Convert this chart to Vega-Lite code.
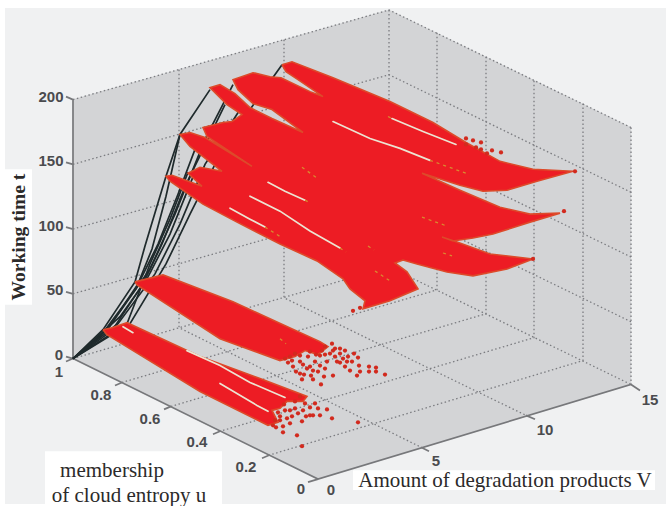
{
"$schema":"https://vega.github.io/schema/vega-lite/v6.json",
"width":666,"height":506,"autosize":{"type":"fit","contains":"padding"},"padding":0,
"background":"white","view":{"stroke":null},
"datasets":{
"boxes":[{"x":5,"x2":666,"y":8,"y2":506,"k":"bg"}],
"labelboxes":[{"x":5,"x2":32,"y":170,"y2":306},{"x":45,"x2":222,"y":453,"y2":506},{"x":353,"x2":655,"y":472,"y2":492}],
"walls":[
{"g":"left","i":1,"x":73,"y":100},{"g":"left","i":2,"x":389,"y":10},{"g":"left","i":3,"x":389,"y":268},{"g":"left","i":4,"x":73,"y":360},{"g":"left","i":5,"x":73,"y":100},
{"g":"right","i":1,"x":389,"y":10},{"g":"right","i":2,"x":631,"y":128},{"g":"right","i":3,"x":631,"y":386},{"g":"right","i":4,"x":389,"y":268},{"g":"right","i":5,"x":389,"y":10},
{"g":"floor","i":1,"x":73,"y":360},{"g":"floor","i":2,"x":389,"y":268},{"g":"floor","i":3,"x":631,"y":386},{"g":"floor","i":4,"x":318,"y":481},{"g":"floor","i":5,"x":73,"y":360}],
"grid":[
{"g":"a200","i":1,"x":73,"y":100},{"g":"a200","i":2,"x":389,"y":10},{"g":"a200","i":3,"x":631,"y":128},
{"g":"a150","i":1,"x":73,"y":165},{"g":"a150","i":2,"x":389,"y":75},{"g":"a150","i":3,"x":631,"y":193},
{"g":"a100","i":1,"x":73,"y":230},{"g":"a100","i":2,"x":389,"y":140},{"g":"a100","i":3,"x":631,"y":258},
{"g":"a50","i":1,"x":73,"y":295},{"g":"a50","i":2,"x":389,"y":205},{"g":"a50","i":3,"x":631,"y":323},
{"g":"a0","i":1,"x":73,"y":360},{"g":"a0","i":2,"x":389,"y":268},{"g":"a0","i":3,"x":631,"y":386},
{"g":"v1","i":1,"x":179,"y":70},{"g":"v1","i":2,"x":179,"y":329},{"g":"v1","i":3,"x":421,"y":449},
{"g":"v2","i":1,"x":284,"y":40},{"g":"v2","i":2,"x":284,"y":299},{"g":"v2","i":3,"x":526,"y":417},
{"g":"v3","i":1,"x":389,"y":10},{"g":"v3","i":2,"x":389,"y":268},
{"g":"r1","i":1,"x":437,"y":33},{"g":"r1","i":2,"x":437,"y":291},{"g":"r1","i":3,"x":122,"y":384},
{"g":"r2","i":1,"x":486,"y":57},{"g":"r2","i":2,"x":486,"y":315},{"g":"r2","i":3,"x":171,"y":408},
{"g":"r3","i":1,"x":534,"y":81},{"g":"r3","i":2,"x":534,"y":339},{"g":"r3","i":3,"x":220,"y":433},
{"g":"r4","i":1,"x":583,"y":104},{"g":"r4","i":2,"x":583,"y":362},{"g":"r4","i":3,"x":269,"y":457},
{"g":"r5","i":1,"x":631,"y":128},{"g":"r5","i":2,"x":631,"y":386}],
"axes":[
{"g":"z","i":1,"x":66,"y":97},{"g":"z","i":2,"x":73,"y":100},{"g":"z","i":3,"x":73,"y":360},{"g":"z","i":4,"x":318,"y":481},{"g":"z","i":5,"x":631,"y":386},{"g":"z","i":6,"x":640,"y":392},
{"g":"t150","i":1,"x":66,"y":163},{"g":"t150","i":2,"x":73,"y":165},
{"g":"t100","i":1,"x":66,"y":228},{"g":"t100","i":2,"x":73,"y":230},
{"g":"t50","i":1,"x":66,"y":293},{"g":"t50","i":2,"x":73,"y":295},
{"g":"t0","i":1,"x":66,"y":358},{"g":"t0","i":2,"x":73,"y":360},
{"g":"u1","i":1,"x":73,"y":360},{"g":"u1","i":2,"x":66,"y":363},
{"g":"u8","i":1,"x":122,"y":384},{"g":"u8","i":2,"x":115,"y":387},
{"g":"u6","i":1,"x":171,"y":408},{"g":"u6","i":2,"x":164,"y":411},
{"g":"u4","i":1,"x":220,"y":433},{"g":"u4","i":2,"x":213,"y":436},
{"g":"u2","i":1,"x":269,"y":457},{"g":"u2","i":2,"x":262,"y":460},
{"g":"u0","i":1,"x":318,"y":481},{"g":"u0","i":2,"x":308,"y":484},
{"g":"v5","i":1,"x":421,"y":449},{"g":"v5","i":2,"x":429,"y":453},
{"g":"v10","i":1,"x":526,"y":417},{"g":"v10","i":2,"x":535,"y":421}],
"curves":[
{"g":"c1","i":1,"x":73,"y":360},{"g":"c1","i":2,"x":103,"y":331},{"g":"c1","i":3,"x":135,"y":283},{"g":"c1","i":4,"x":145,"y":247},{"g":"c1","i":5,"x":166,"y":177},{"g":"c1","i":6,"x":180,"y":135},{"g":"c1","i":7,"x":210,"y":90},
{"g":"c2","i":1,"x":73,"y":360},{"g":"c2","i":2,"x":108,"y":330},{"g":"c2","i":3,"x":138,"y":285},{"g":"c2","i":4,"x":152,"y":250},{"g":"c2","i":5,"x":166,"y":197},{"g":"c2","i":6,"x":180,"y":135},
{"g":"c3","i":1,"x":73,"y":360},{"g":"c3","i":2,"x":130,"y":325},{"g":"c3","i":3,"x":166,"y":265},{"g":"c3","i":4,"x":190,"y":215},{"g":"c3","i":5,"x":215,"y":165},{"g":"c3","i":6,"x":250,"y":110},{"g":"c3","i":7,"x":282,"y":65},
{"g":"c4","i":1,"x":73,"y":360},{"g":"c4","i":2,"x":118,"y":325},{"g":"c4","i":3,"x":155,"y":275},{"g":"c4","i":4,"x":180,"y":225},{"g":"c4","i":5,"x":205,"y":165},{"g":"c4","i":6,"x":240,"y":110},
{"g":"c5","i":1,"x":73,"y":360},{"g":"c5","i":2,"x":108,"y":330},{"g":"c5","i":3,"x":150,"y":270},{"g":"c5","i":4,"x":175,"y":215},{"g":"c5","i":5,"x":205,"y":140},{"g":"c5","i":6,"x":233,"y":85},
{"g":"c6","i":1,"x":73,"y":360},{"g":"c6","i":2,"x":127,"y":325},{"g":"c6","i":3,"x":150,"y":265},{"g":"c6","i":4,"x":170,"y":220},{"g":"c6","i":5,"x":188,"y":173},
{"g":"c7","i":1,"x":73,"y":360},{"g":"c7","i":2,"x":112,"y":332},{"g":"c7","i":3,"x":143,"y":285},{"g":"c7","i":4,"x":162,"y":245},{"g":"c7","i":5,"x":186,"y":185},{"g":"c7","i":6,"x":225,"y":105},
{"g":"c8","i":1,"x":73,"y":360},{"g":"c8","i":2,"x":100,"y":338},{"g":"c8","i":3,"x":136,"y":290},{"g":"c8","i":4,"x":158,"y":245},{"g":"c8","i":5,"x":178,"y":195},{"g":"c8","i":6,"x":195,"y":150},
{"g":"c9","i":1,"x":73,"y":360},{"g":"c9","i":2,"x":120,"y":318},{"g":"c9","i":3,"x":147,"y":280},{"g":"c9","i":4,"x":170,"y":235},{"g":"c9","i":5,"x":196,"y":170}],
"blobs":[
{"g":"main","i":1,"x":282,"y":65},{"g":"main","i":2,"x":292,"y":62},{"g":"main","i":3,"x":333,"y":78},{"g":"main","i":4,"x":390,"y":102},{"g":"main","i":5,"x":433,"y":123},{"g":"main","i":6,"x":466,"y":143},{"g":"main","i":7,"x":500,"y":162},{"g":"main","i":8,"x":533,"y":170},{"g":"main","i":9,"x":573,"y":172},{"g":"main","i":10,"x":537,"y":182},{"g":"main","i":11,"x":507,"y":191},{"g":"main","i":12,"x":483,"y":192},{"g":"main","i":13,"x":460,"y":186},{"g":"main","i":14,"x":422,"y":174},{"g":"main","i":15,"x":460,"y":191},{"g":"main","i":16,"x":500,"y":208},{"g":"main","i":17,"x":530,"y":215},{"g":"main","i":18,"x":560,"y":214},{"g":"main","i":19,"x":530,"y":223},{"g":"main","i":20,"x":493,"y":235},{"g":"main","i":21,"x":473,"y":239},{"g":"main","i":22,"x":453,"y":242},{"g":"main","i":23,"x":442,"y":238},{"g":"main","i":24,"x":457,"y":243},{"g":"main","i":25,"x":490,"y":255},{"g":"main","i":26,"x":533,"y":260},{"g":"main","i":27,"x":507,"y":270},{"g":"main","i":28,"x":473,"y":277},{"g":"main","i":29,"x":447,"y":273},{"g":"main","i":30,"x":417,"y":265},{"g":"main","i":31,"x":403,"y":261},{"g":"main","i":32,"x":395,"y":264},{"g":"main","i":33,"x":407,"y":273},{"g":"main","i":34,"x":418,"y":290},{"g":"main","i":35,"x":390,"y":302},{"g":"main","i":36,"x":363,"y":310},{"g":"main","i":37,"x":365,"y":302},{"g":"main","i":38,"x":350,"y":290},{"g":"main","i":39,"x":343,"y":280},{"g":"main","i":40,"x":317,"y":262},{"g":"main","i":41,"x":280,"y":245},{"g":"main","i":42,"x":237,"y":223},{"g":"main","i":43,"x":203,"y":205},{"g":"main","i":44,"x":170,"y":182},{"g":"main","i":45,"x":166,"y":177},{"g":"main","i":46,"x":172,"y":176},{"g":"main","i":47,"x":202,"y":187},{"g":"main","i":48,"x":188,"y":174},{"g":"main","i":49,"x":200,"y":168},{"g":"main","i":50,"x":222,"y":172},{"g":"main","i":51,"x":190,"y":147},{"g":"main","i":52,"x":180,"y":135},{"g":"main","i":53,"x":190,"y":133},{"g":"main","i":54,"x":205,"y":138},{"g":"main","i":55,"x":252,"y":167},{"g":"main","i":56,"x":207,"y":137},{"g":"main","i":57,"x":203,"y":128},{"g":"main","i":58,"x":223,"y":123},{"g":"main","i":59,"x":232,"y":122},{"g":"main","i":60,"x":242,"y":115},{"g":"main","i":61,"x":227,"y":105},{"g":"main","i":62,"x":210,"y":88},{"g":"main","i":63,"x":220,"y":85},{"g":"main","i":64,"x":235,"y":94},{"g":"main","i":65,"x":250,"y":108},{"g":"main","i":66,"x":272,"y":119},{"g":"main","i":67,"x":303,"y":133},{"g":"main","i":68,"x":272,"y":110},{"g":"main","i":69,"x":253,"y":104},{"g":"main","i":70,"x":238,"y":90},{"g":"main","i":71,"x":233,"y":80},{"g":"main","i":72,"x":253,"y":73},{"g":"main","i":73,"x":270,"y":77},{"g":"main","i":74,"x":281,"y":78},{"g":"main","i":75,"x":310,"y":92},{"g":"main","i":76,"x":323,"y":97},{"g":"main","i":77,"x":298,"y":80},{"g":"main","i":78,"x":286,"y":72},{"g":"main","i":79,"x":282,"y":65},
{"g":"upper","i":1,"x":135,"y":283},{"g":"upper","i":2,"x":163,"y":276},{"g":"upper","i":3,"x":233,"y":303},{"g":"upper","i":4,"x":283,"y":326},{"g":"upper","i":5,"x":320,"y":343},{"g":"upper","i":6,"x":328,"y":348},{"g":"upper","i":7,"x":318,"y":356},{"g":"upper","i":8,"x":305,"y":352},{"g":"upper","i":9,"x":295,"y":358},{"g":"upper","i":10,"x":280,"y":362},{"g":"upper","i":11,"x":220,"y":340},{"g":"upper","i":12,"x":137,"y":286},{"g":"upper","i":13,"x":135,"y":283},
{"g":"lower","i":1,"x":103,"y":331},{"g":"lower","i":2,"x":112,"y":329},{"g":"lower","i":3,"x":127,"y":324},{"g":"lower","i":4,"x":200,"y":358},{"g":"lower","i":5,"x":260,"y":380},{"g":"lower","i":6,"x":307,"y":398},{"g":"lower","i":7,"x":303,"y":403},{"g":"lower","i":8,"x":287,"y":403},{"g":"lower","i":9,"x":280,"y":410},{"g":"lower","i":10,"x":272,"y":412},{"g":"lower","i":11,"x":278,"y":424},{"g":"lower","i":12,"x":268,"y":427},{"g":"lower","i":13,"x":200,"y":393},{"g":"lower","i":14,"x":107,"y":336},{"g":"lower","i":15,"x":103,"y":331}],
"slits":[
{"g":"s1","i":1,"x":333,"y":122},{"g":"s1","i":2,"x":370,"y":139},{"g":"s1","i":3,"x":400,"y":149},{"g":"s1","i":4,"x":430,"y":161},
{"g":"s2","i":1,"x":392,"y":119},{"g":"s2","i":2,"x":423,"y":132},{"g":"s2","i":3,"x":456,"y":145},
{"g":"s3","i":1,"x":268,"y":183},{"g":"s3","i":2,"x":285,"y":192},{"g":"s3","i":3,"x":305,"y":201},
{"g":"s4","i":1,"x":250,"y":197},{"g":"s4","i":2,"x":280,"y":212},{"g":"s4","i":3,"x":310,"y":232},{"g":"s4","i":4,"x":340,"y":249},
{"g":"s5","i":1,"x":230,"y":209},{"g":"s5","i":2,"x":250,"y":220},{"g":"s5","i":3,"x":265,"y":228},
{"g":"s6","i":1,"x":187,"y":352},{"g":"s6","i":2,"x":220,"y":367},{"g":"s6","i":3,"x":250,"y":384},{"g":"s6","i":4,"x":285,"y":399},
{"g":"s7","i":1,"x":220,"y":385},{"g":"s7","i":2,"x":257,"y":407},{"g":"s7","i":3,"x":268,"y":413},
{"g":"s8","i":1,"x":123,"y":328},{"g":"s8","i":2,"x":133,"y":334}],
"flecks":[
{"g":"f1","i":1,"x":430,"y":161},{"g":"f1","i":2,"x":466,"y":174},
{"g":"f2","i":1,"x":422,"y":218},{"g":"f2","i":2,"x":447,"y":227},
{"g":"f3","i":1,"x":375,"y":272},{"g":"f3","i":2,"x":390,"y":282},
{"g":"f4","i":1,"x":302,"y":168},{"g":"f4","i":2,"x":316,"y":178},
{"g":"f5","i":1,"x":265,"y":228},{"g":"f5","i":2,"x":281,"y":238},
{"g":"f6","i":1,"x":368,"y":247},{"g":"f6","i":2,"x":374,"y":251},
{"g":"f7","i":1,"x":443,"y":254},{"g":"f7","i":2,"x":452,"y":257},
{"g":"f8","i":1,"x":280,"y":340},{"g":"f8","i":2,"x":286,"y":345},
{"g":"f9","i":1,"x":388,"y":117},{"g":"f9","i":2,"x":392,"y":119},
{"g":"f10","i":1,"x":305,"y":201},{"g":"f10","i":2,"x":311,"y":204},
{"g":"f11","i":1,"x":340,"y":249},{"g":"f11","i":2,"x":346,"y":253}],
"dots":[
{"x":358,"y":359},{"x":352,"y":363},{"x":348,"y":358},{"x":343,"y":360},{"x":340,"y":355},{"x":335,"y":350},{"x":337,"y":363},{"x":345,"y":368},{"x":350,"y":372},{"x":359,"y":367},{"x":360,"y":373},{"x":369,"y":368},{"x":369,"y":373},{"x":376,"y":369},{"x":376,"y":373},{"x":357,"y":377},{"x":385,"y":376},{"x":333,"y":377},{"x":324,"y":378},{"x":321,"y":386},{"x":313,"y":381},{"x":311,"y":377},{"x":302,"y":381},{"x":296,"y":373},{"x":292,"y":362},{"x":300,"y":363},{"x":307,"y":370},{"x":315,"y":363},{"x":320,"y":357},{"x":327,"y":363},{"x":335,"y":358},{"x":300,"y":375},{"x":310,"y":368},{"x":320,"y":367},
{"x":325,"y":348},{"x":332,"y":345},{"x":340,"y":350},{"x":345,"y":352},{"x":330,"y":355},{"x":322,"y":352},{"x":316,"y":356},{"x":308,"y":358},{"x":300,"y":357},{"x":295,"y":355},{"x":290,"y":358},{"x":285,"y":360},{"x":303,"y":366},{"x":313,"y":372},{"x":325,"y":370},{"x":340,"y":364},{"x":347,"y":363},{"x":354,"y":355},{"x":304,"y":376},{"x":318,"y":373},{"x":293,"y":368},{"x":288,"y":364},{"x":325,"y":356},{"x":333,"y":352},{"x":310,"y":353},
{"x":315,"y":405},{"x":327,"y":411},{"x":320,"y":417},{"x":332,"y":420},{"x":310,"y":417},{"x":302,"y":423},{"x":292,"y":418},{"x":285,"y":412},{"x":295,"y":410},{"x":283,"y":428},{"x":273,"y":427},{"x":358,"y":424},{"x":297,"y":437},{"x":302,"y":448},{"x":303,"y":412},{"x":313,"y":417},{"x":287,"y":420},{"x":280,"y":422},{"x":318,"y":410},
{"x":295,"y":403},{"x":305,"y":405},{"x":300,"y":398},{"x":310,"y":409},{"x":298,"y":415},{"x":290,"y":412},{"x":306,"y":418},{"x":280,"y":418},{"x":275,"y":422},{"x":290,"y":425},{"x":283,"y":434},{"x":278,"y":414},{"x":284,"y":406},{"x":276,"y":429},
{"x":501,"y":153},{"x":492,"y":151},{"x":481,"y":143},{"x":473,"y":141},{"x":466,"y":139},{"x":466,"y":145},{"x":476,"y":148},{"x":487,"y":154},{"x":481,"y":150},{"x":575,"y":172},{"x":564,"y":212},{"x":353,"y":312},{"x":360,"y":309},{"x":533,"y":260}],
"ticklabels":[
{"x":51,"y":97,"t":"200"},{"x":51,"y":162,"t":"150"},{"x":51,"y":227,"t":"100"},{"x":55,"y":291,"t":"50"},{"x":59,"y":356,"t":"0"},
{"x":59,"y":373,"t":"1"},{"x":101,"y":397,"t":"0.8"},{"x":150,"y":421,"t":"0.6"},{"x":197,"y":444,"t":"0.4"},{"x":246,"y":469,"t":"0.2"},{"x":301,"y":491,"t":"0"},
{"x":331,"y":492,"t":"0"},{"x":436,"y":463,"t":"5"},{"x":545,"y":432,"t":"10"},{"x":650,"y":402,"t":"15"}],
"titles":[
{"x":112,"y":473,"t":"membership"},{"x":129,"y":498,"t":"of cloud entropy u"},{"x":505,"y":483,"t":"Amount of degradation products V"}],
"ztitle":[{"x":19,"y":238,"t":"Working time t"}]
},
"encoding":{
"x":{"field":"x","type":"quantitative","axis":null,"scale":{"domain":[0,666],"nice":false,"zero":false}},
"y":{"field":"y","type":"quantitative","axis":null,"scale":{"domain":[506,0],"nice":false,"zero":false}}
},
"layer":[
{"data":{"name":"boxes"},"mark":{"type":"rect","fill":"#f0f1f2"},"encoding":{"x2":{"field":"x2"},"y2":{"field":"y2"}}},
{"data":{"name":"walls"},"mark":{"type":"line","fill":"#d3d4d6","stroke":"#d3d4d6","strokeWidth":0.5},"encoding":{"detail":{"field":"g"},"order":{"field":"i","type":"quantitative"}}},
{"data":{"name":"grid"},"mark":{"type":"line","stroke":"#7b7c80","strokeWidth":1.3,"strokeDash":[1.5,2.5]},"encoding":{"detail":{"field":"g"},"order":{"field":"i","type":"quantitative"}}},
{"data":{"name":"axes"},"mark":{"type":"line","stroke":"#77787b","strokeWidth":1.7},"encoding":{"detail":{"field":"g"},"order":{"field":"i","type":"quantitative"}}},
{"data":{"name":"curves"},"mark":{"type":"line","stroke":"#1f2a2c","strokeWidth":1.7},"encoding":{"detail":{"field":"g"},"order":{"field":"i","type":"quantitative"}}},
{"data":{"name":"blobs"},"mark":{"type":"line","fill":"#ed1c24","stroke":"#dd4a2a","strokeWidth":1.6},"encoding":{"detail":{"field":"g"},"order":{"field":"i","type":"quantitative"}}},
{"data":{"name":"slits"},"mark":{"type":"line","stroke":"#ece4d2","strokeWidth":1.7,"strokeCap":"round"},"encoding":{"detail":{"field":"g"},"order":{"field":"i","type":"quantitative"}}},
{"data":{"name":"flecks"},"mark":{"type":"line","stroke":"#d98a30","strokeWidth":1.3,"strokeDash":[3,4]},"encoding":{"detail":{"field":"g"},"order":{"field":"i","type":"quantitative"}}},
{"data":{"name":"dots"},"mark":{"type":"point","filled":true,"fill":"#d22a1e","size":18,"opacity":1}},
{"data":{"name":"labelboxes"},"mark":{"type":"rect","fill":"#ffffff"},"encoding":{"x2":{"field":"x2"},"y2":{"field":"y2"}}},
{"data":{"name":"ticklabels"},"mark":{"type":"text","font":"Liberation Sans","fontSize":15,"fontWeight":"bold","fill":"#4a4b4e","align":"center","baseline":"middle"},"encoding":{"text":{"field":"t"}}},
{"data":{"name":"titles"},"mark":{"type":"text","font":"Liberation Serif","fontSize":21,"fill":"#2c2a2a","align":"center","baseline":"middle"},"encoding":{"text":{"field":"t"}}},
{"data":{"name":"ztitle"},"mark":{"type":"text","font":"Liberation Serif","fontSize":19.5,"fontWeight":"bold","fill":"#2c2a2a","align":"center","baseline":"middle","angle":270},"encoding":{"text":{"field":"t"}}}
]
}
